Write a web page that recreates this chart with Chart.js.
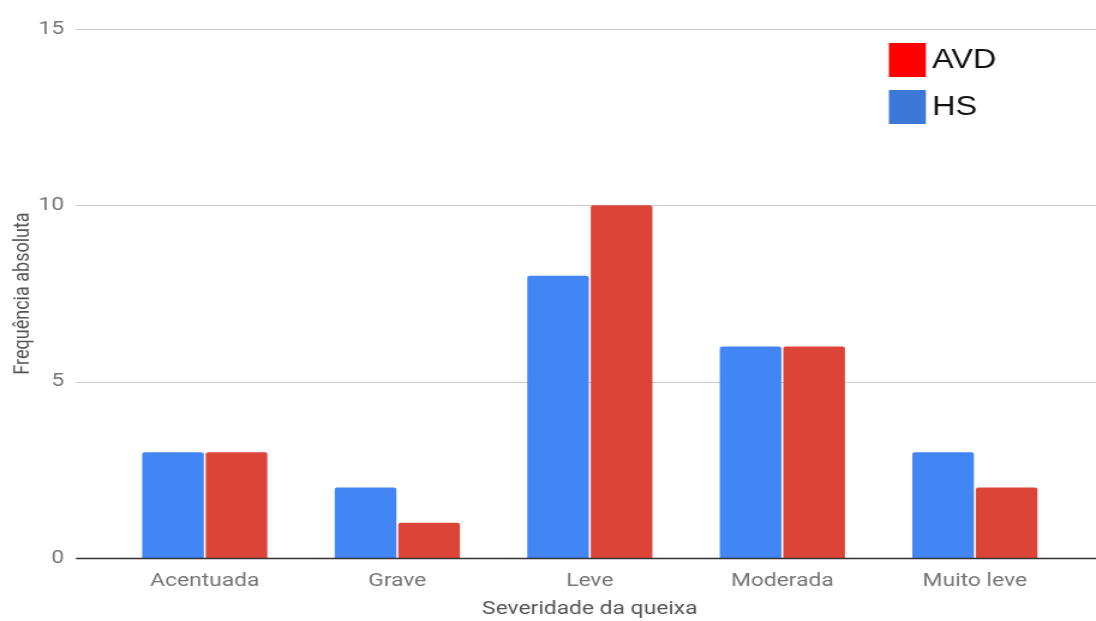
<!DOCTYPE html>
<html>
<head>
<meta charset="utf-8">
<script src="https://cdn.jsdelivr.net/npm/chart.js@4/dist/chart.umd.min.js"></script>
<style>
  html, body { margin: 0; padding: 0; background: #fff; overflow: hidden; }
  /* the chart is laid out narrower and stretched horizontally to full width */
  #wrap { width: 913px; height: 621px; transform: scaleX(1.2004); transform-origin: 0 0; }
</style>
</head>
<body>
<div id="wrap"><canvas id="c" width="913" height="621"></canvas></div>
<script>
const categories = ['Acentuada', 'Grave', 'Leve', 'Moderada', 'Muito leve'];
const hsValues = [3, 2, 8, 6, 3];
const avdValues = [3, 1, 10, 6, 2];
const yTicks = [0, 5, 10, 15];
const legendItems = [
  { label: 'AVD', color: '#ff0000' },
  { label: 'HS', color: '#3c78d8' }
];

const GRID_LEFT = 63.3;
const GRID_RIGHT = 913;
const PLOT_TOP = 29;

// Pin the top of the plot area so the value axis spans a fixed height
const plotTopPlugin = {
  id: 'plotTop',
  afterLayout(chart) {
    const ca = chart.chartArea, y = chart.scales.y;
    ca.top = PLOT_TOP;
    ca.height = ca.bottom - PLOT_TOP;
    y.top = PLOT_TOP;
    y.height = ca.bottom - PLOT_TOP;
    y.configure();
  }
};

// Horizontal grid lines run wider than the bar area
const gridPlugin = {
  id: 'wideGrid',
  beforeDatasetsDraw(chart) {
    const ctx = chart.ctx, y = chart.scales.y;
    ctx.save();
    ctx.strokeStyle = '#cccccc';
    ctx.lineWidth = 1;
    yTicks.forEach(v => {
      if (v === 0) return;
      const py = Math.round(y.getPixelForValue(v)) + 0.5;
      ctx.beginPath(); ctx.moveTo(GRID_LEFT, py); ctx.lineTo(GRID_RIGHT, py); ctx.stroke();
    });
    ctx.restore();
  },
  afterDatasetsDraw(chart) {
    const ctx = chart.ctx, y = chart.scales.y;
    const py = Math.round(y.getPixelForValue(0)) + 0.5;
    ctx.save();
    ctx.strokeStyle = '#333333';
    ctx.lineWidth = 1.5;
    ctx.beginPath(); ctx.moveTo(GRID_LEFT, py); ctx.lineTo(GRID_RIGHT, py); ctx.stroke();
    ctx.restore();
  }
};

// Legend box in the upper right corner
const legendPlugin = {
  id: 'cornerLegend',
  afterDraw(chart) {
    const ctx = chart.ctx;
    ctx.save();
    ctx.font = '27px "Liberation Sans", Arial, sans-serif';
    ctx.textBaseline = 'middle';
    ctx.textAlign = 'left';
    legendItems.forEach((item, i) => {
      const top = 43 + i * 47;
      ctx.fillStyle = item.color;
      ctx.fillRect(740.5, top, 30.8, 34);
      ctx.fillStyle = '#111111';
      ctx.fillText(item.label, 776.5, top + 18);
    });
    ctx.restore();
  }
};

new Chart(document.getElementById('c'), {
  type: 'bar',
  data: {
    labels: categories,
    datasets: [
      { label: 'HS', data: hsValues, backgroundColor: '#4285f4', borderRadius: 2, borderSkipped: 'bottom' },
      { label: 'AVD', data: avdValues, backgroundColor: '#db4437', borderRadius: 2, borderSkipped: 'bottom' }
    ]
  },
  options: {
    responsive: false,
    animation: false,
    devicePixelRatio: 1,
    layout: { autoPadding: false, padding: { top: 29, right: 20.7, left: 0, bottom: 0 } },
    plugins: { legend: { display: false }, tooltip: { enabled: false } },
    datasets: { bar: { categoryPercentage: 0.66, barPercentage: 0.97 } },
    scales: {
      x: {
        grid: { display: false, drawTicks: false },
        border: { display: false },
        afterFit(s) { s.height = 63; },
        ticks: {
          padding: 12,
          color: '#757575',
          font: { family: 'Roboto', size: 19 }
        },
        title: {
          display: true,
          text: 'Severidade da queixa',
          color: '#555555',
          padding: { top: 0, bottom: 0 },
          font: { family: 'Roboto', size: 19 }
        }
      },
      y: {
        min: 0,
        max: 15,
        afterFit(s) { s.width = 90.4; s.paddingTop = 0; s.paddingBottom = 0; },
        afterBuildTicks(s) { s.ticks = yTicks.map(v => ({ value: v })); },
        grid: { display: false, drawTicks: false },
        border: { display: false },
        ticks: {
          padding: 37,
          color: '#757575',
          font: { family: 'Roboto', size: 19 }
        },
        title: {
          display: true,
          text: 'Frequência absoluta',
          color: '#555555',
          padding: { top: 9, bottom: 0 },
          font: { family: 'Roboto', size: 18 }
        }
      }
    }
  },
  plugins: [plotTopPlugin, gridPlugin, legendPlugin]
});
</script>
</body>
</html>
